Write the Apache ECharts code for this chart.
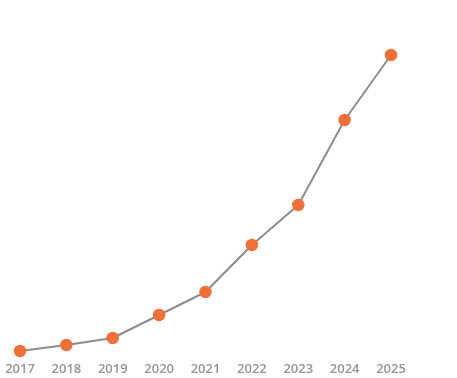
<!DOCTYPE html>
<html><head><meta charset="utf-8">
<script src="https://cdn.jsdelivr.net/npm/echarts@6/dist/echarts.min.js"></script>
<style>html,body{margin:0;padding:0;background:#fff}#c{width:457px;height:378px}</style>
</head><body><div id="c"></div>
<script>
var years = ['2017','2018','2019','2020','2021','2022','2023','2024','2025'];
var values = [9, 15, 22, 45, 68, 115, 155, 240, 305];
var chart = echarts.init(document.getElementById('c'), null, {renderer:'canvas'});
chart.setOption({
  animation:false,
  grid:{left:20,right:66,top:55,bottom:18},
  xAxis:{type:'category',data:years,boundaryGap:false,
    axisLine:{show:false},axisTick:{show:false},splitLine:{show:false},
    axisLabel:{color:'#959595',fontSize:13,fontWeight:600,fontFamily:'Open Sans',margin:3}},
  yAxis:{type:'value',min:0,max:305,show:false},
  series:[{type:'line',data:values,symbol:'circle',symbolSize:12.5,
    lineStyle:{color:'#8c8c8c',width:2},
    itemStyle:{color:'#ef7038',borderWidth:0}}]
});
</script></body></html>
